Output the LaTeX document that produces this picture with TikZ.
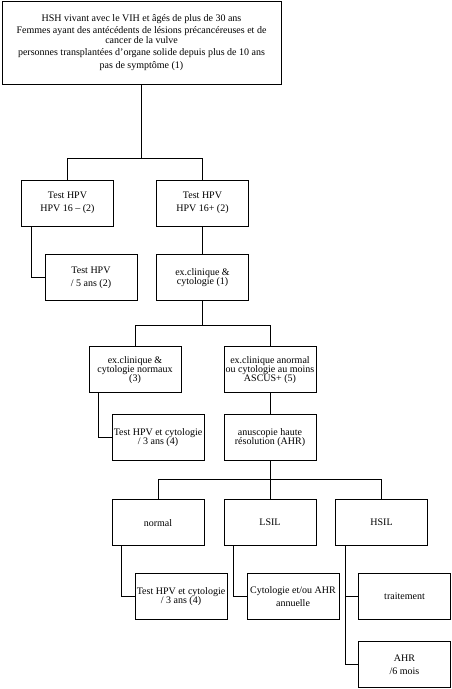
\documentclass[tikz,border=0pt]{standalone}
\usepackage{fontspec}
\setmainfont{Liberation Serif}
\usepackage{tikz}
\usetikzlibrary{arrows.meta,positioning,calc}

\begin{document}
\begin{tikzpicture}[
  x=1pt, y=-1pt,
  box/.style={rectangle, draw, line width=1pt, minimum width=92pt, minimum height=46pt, inner sep=1pt, align=center, font=\fontsize{10}{12.7}\selectfont},
  link/.style={line width=1pt},
]
  \useasboundingbox (0,0) rectangle (452,689);

  % Population
  \node[box, minimum width=279pt, minimum height=83pt] (pop) at (141.5,42.5) {
    HSH vivant avec le VIH et âgés de plus de 30 ans\\
    Femmes ayant des antécédents de lésions précancéreuses et de\\[-3.5pt]
    cancer de la vulve\\
    personnes transplantées d’organe solide depuis plus de 10 ans\\
    pas de symptôme (1)
  };

  % Test HPV
  \node[box] (hpvneg) at (67.5,203) {Test HPV\\ HPV 16 -- (2)};
  \node[box] (hpvpos) at (202.5,203) {Test HPV\\ HPV 16+ (2)};
  \node[box] (fiveyr) at (91,277.7) {Test HPV\\ / 5 ans (2)};
  \node[box] (exam) at (202.5,277.7) {ex.clinique \&\\[-3pt] cytologie (1)};

  % Examen
  \node[box] (examok) at (135,369.7) {ex.clinique \&\\[-3.8pt] cytologie normaux\\[-3.8pt] (3)};
  \node[box] (examab) at (270,369.7) {ex.clinique anormal\\[-3.8pt] ou cytologie au moins\\[-3.8pt] ASCUS+ (5)};
  \node[box] (threeyr) at (158,437.8) {Test HPV et cytologie\\[-3.5pt] / 3 ans (4)};
  \node[box] (ahr) at (270,437.8) {anuscopie haute\\[-3.5pt] résolution (AHR)};

  % Resultats AHR
  \node[box] (normal) at (158,522.7) {normal};
  \node[box] (lsil) at (270,522.7) {LSIL};
  \node[box] (hsil) at (381.5,522.7) {HSIL};
  \node[box] (threeyrb) at (181,596.5) {Test HPV et cytologie\\[-3.5pt] / 3 ans (4)};
  \node[box] (annual) at (293,596.5) {Cytologie et/ou AHR\\ annuelle};
  \node[box] (treat) at (404.5,596.5) {traitement};
  \node[box] (sixmo) at (404.5,664.5) {AHR\\ /6 mois};

  % Links
  \draw[link] (pop.south) -- ++(0,74) coordinate (bus1);
  \draw[link] (bus1) -| (hpvneg.north);
  \draw[link] (bus1) -| (hpvpos.north);
  \draw[link] ([xshift=10pt]hpvneg.south west) |- (fiveyr.west);
  \draw[link] (hpvpos.south) -- (exam.north);

  \draw[link] (exam.south) -- ++(0,24.6) coordinate (bus2);
  \draw[link] (bus2) -| (examok.north);
  \draw[link] (bus2) -| (examab.north);
  \draw[link] ([xshift=9.5pt]examok.south west) |- (threeyr.west);
  \draw[link] (examab.south) -- (ahr.north);

  \draw[link] (ahr.south) -- ++(0,17.7) coordinate (bus3);
  \draw[link] (bus3) -| (normal.north);
  \draw[link] (bus3) -- (lsil.north);
  \draw[link] (bus3) -| (hsil.north);
  \draw[link] ([xshift=9.5pt]normal.south west) |- (threeyrb.west);
  \draw[link] ([xshift=9.5pt]lsil.south west) |- (annual.west);
  \draw[link] ([xshift=10pt]hsil.south west) |- (treat.west);
  \draw[link] ([xshift=10pt]hsil.south west) |- (sixmo.west);
\end{tikzpicture}
\end{document}
